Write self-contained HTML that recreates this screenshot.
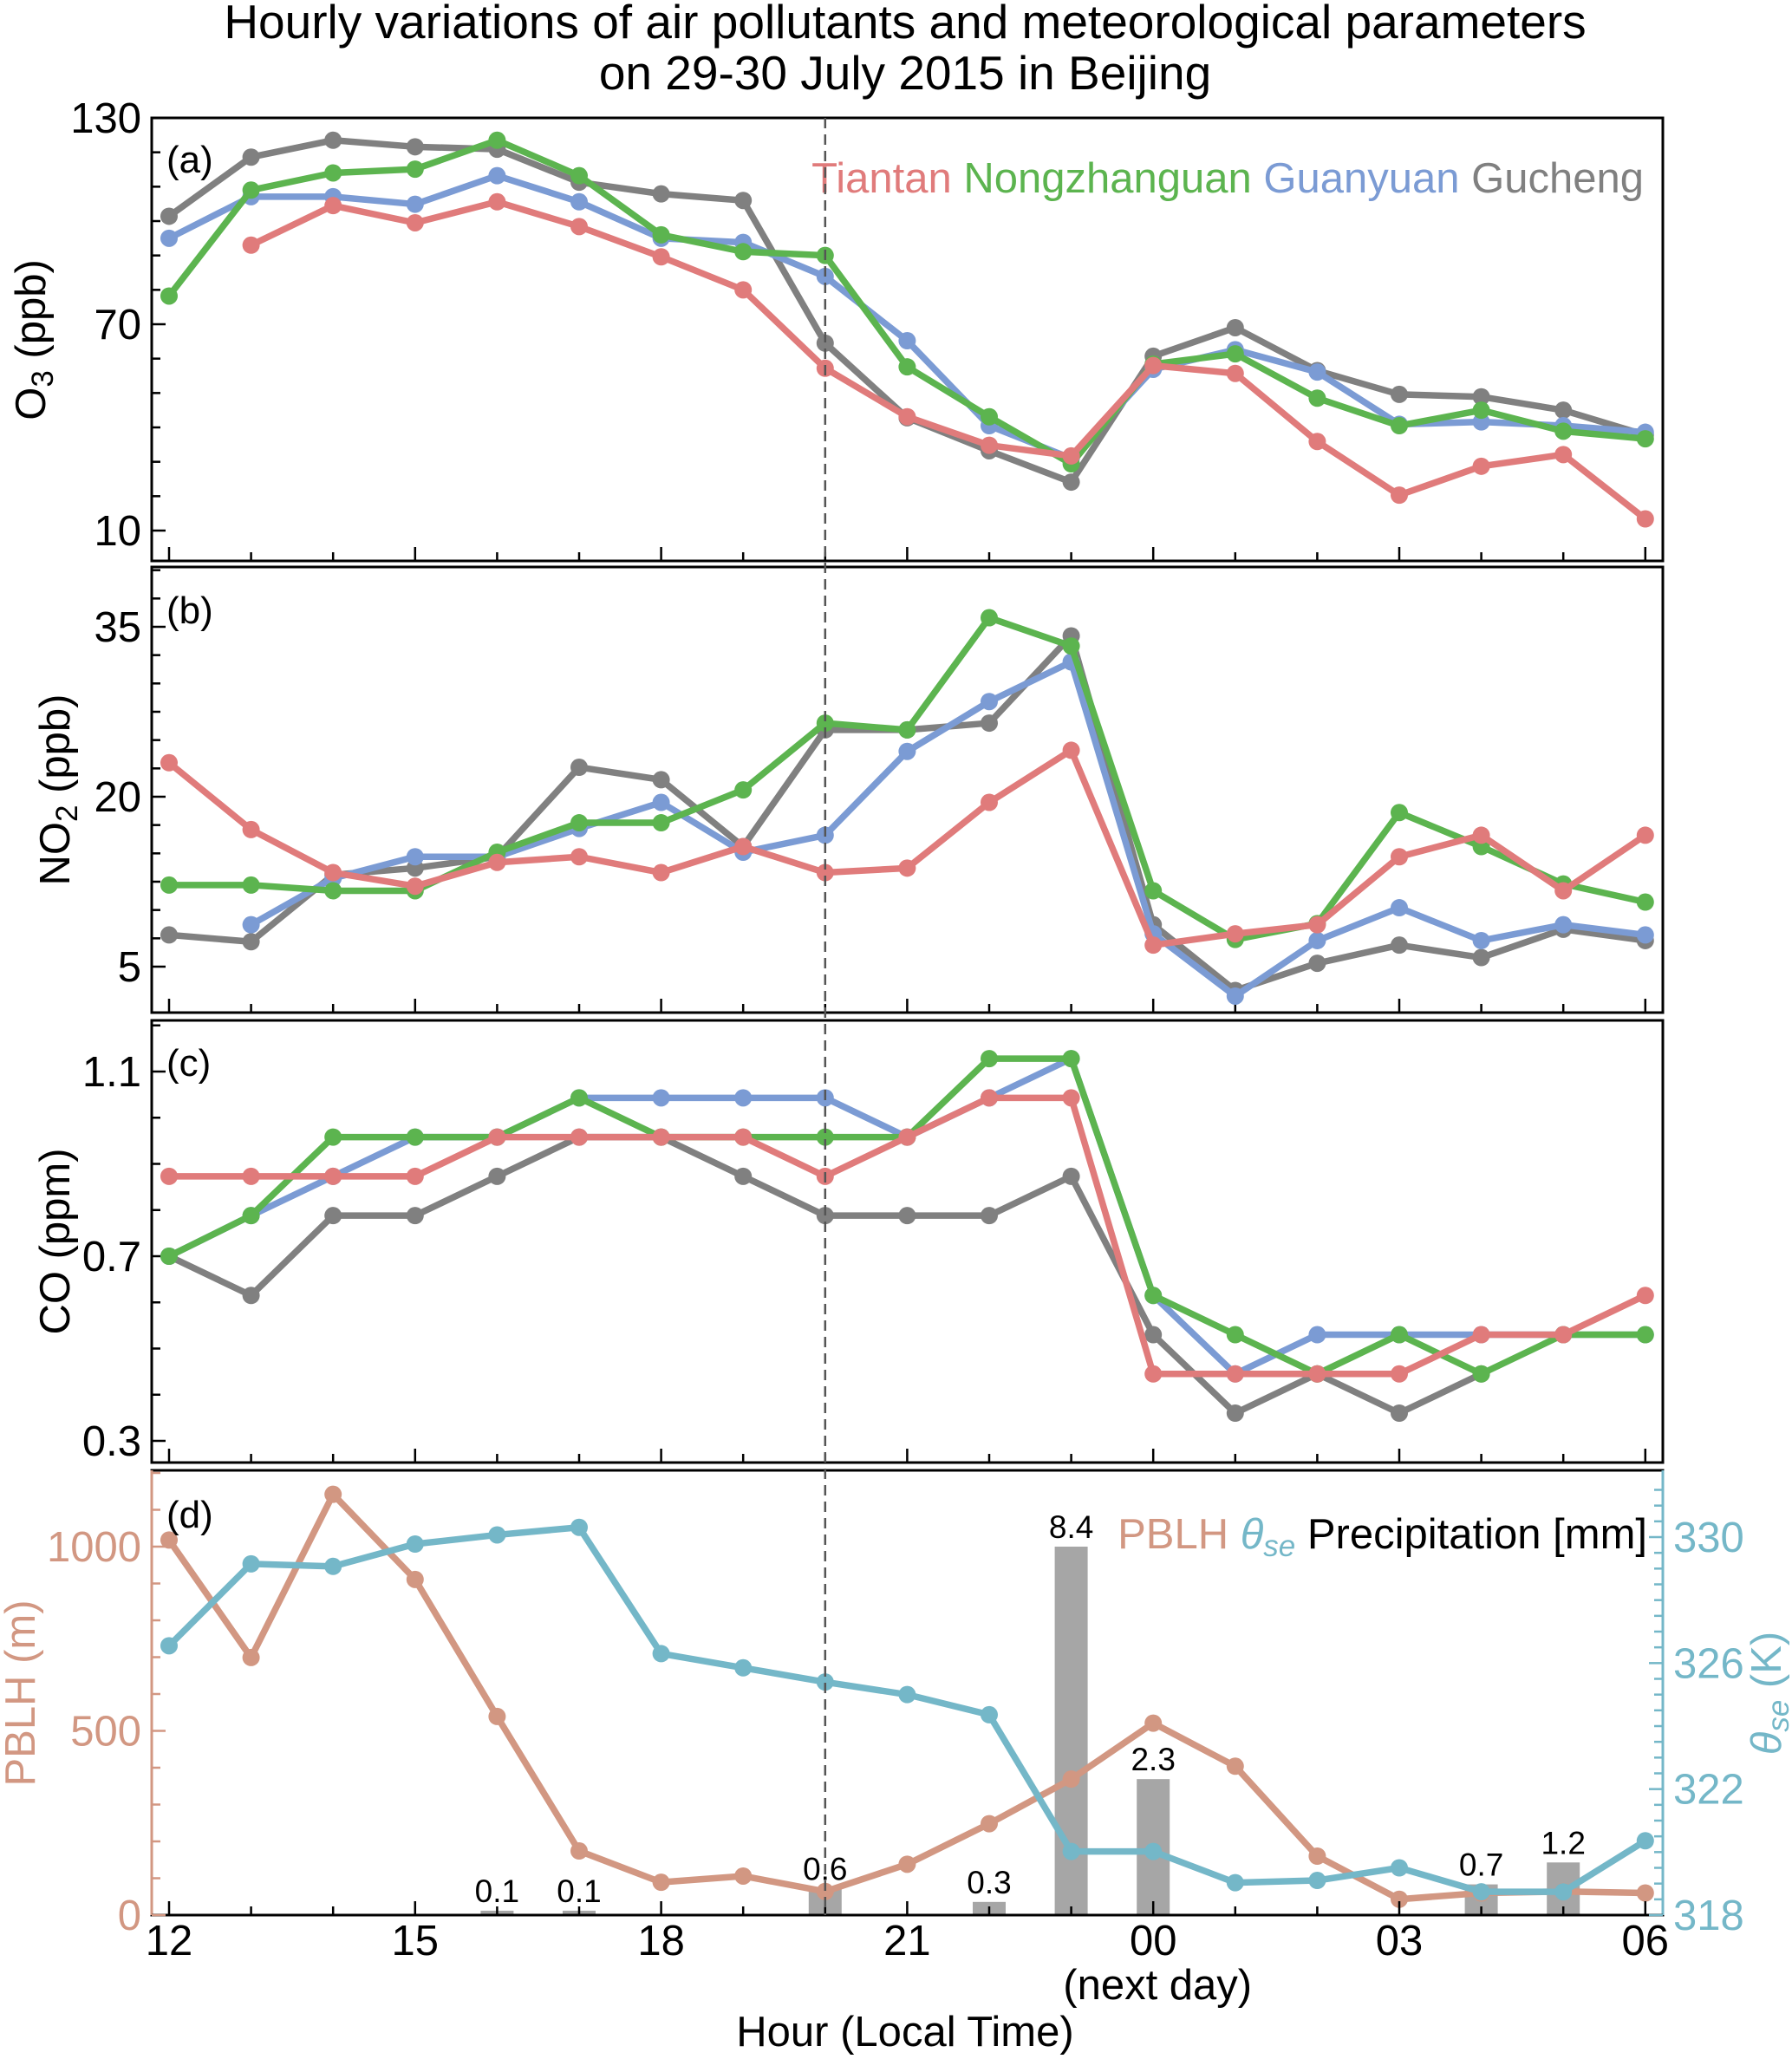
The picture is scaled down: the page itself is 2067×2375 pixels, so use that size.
<!DOCTYPE html>
<html><head><meta charset="utf-8"><style>
html,body{margin:0;padding:0;background:#fff}
svg{display:block;font-family:"Liberation Sans",Arial,sans-serif}
</style></head><body>
<svg id="chart" width="2067" height="2375" viewBox="0 0 2067 2375" xmlns="http://www.w3.org/2000/svg">
<text x="1044" y="44" font-size="55" text-anchor="middle">Hourly variations of air pollutants and meteorological parameters</text>
<text x="1044" y="103" font-size="55" text-anchor="middle">on 29-30 July 2015 in Beijing</text>
<g id="plots"></g>
</svg>
<script>
const hourLabels=["12","15","18","21","00","03","06"];
const stations=["Tiantan","Nongzhanguan","Guanyuan","Gucheng"];
const o3Tiantan=[null,93,104.5,99.5,105.6,98.4,89.6,80,57.2,43.1,34.8,31.7,58,55.7,35.9,20.3,28.7,32.1,13.4];
const o3Nong=[78.2,109,114,115.1,123.5,113.2,96,91.1,90,57.6,43.1,29.4,58.4,61.4,48.5,40.5,45,38.9,36.7];
const o3Guan=[95,107.1,107.1,104.9,113.2,105.6,95,93.8,83.9,65.2,40.5,31,56.9,62.6,56.1,40.9,41.6,40.5,38.6];
const o3Guch=[101.4,118.6,123.5,121.6,120.9,111.3,107.9,106,64.5,42.8,33.2,24.1,60.7,69,56.5,49.6,48.9,45,37.8];
const no2Tiantan=[23,17.1,13.3,12.1,14.2,14.7,13.3,15.6,13.3,13.7,19.5,24.1,6.9,7.9,8.7,14.7,16.6,11.7,16.6];
const no2Nong=[12.2,12.2,11.7,11.7,15.1,17.7,17.7,20.6,26.5,25.9,35.8,33.3,11.7,7.4,8.8,18.6,15.6,12.3,10.7];
const no2Guan=[null,8.7,12.8,14.7,14.7,17.2,19.5,15.1,16.6,24,28.4,31.9,7.9,2.4,7.3,10.2,7.3,8.7,7.8];
const no2Guch=[7.8,7.2,13.1,13.7,14.7,22.6,21.5,15.6,25.9,25.9,26.5,34.2,8.7,2.9,5.3,6.9,5.8,8.3,7.3];
const coTiantan=[0.873,0.873,0.873,0.873,0.958,0.958,0.958,0.958,0.873,0.958,1.043,1.043,0.445,0.445,0.445,0.445,0.53,0.53,0.615];
const coNong=[0.7,0.788,0.958,0.958,0.958,1.043,0.958,0.958,0.958,0.958,1.128,1.128,0.615,0.53,0.445,0.53,0.445,0.53,0.53];
const coGuan=[0.7,0.788,0.873,0.958,0.958,1.043,1.043,1.043,1.043,0.958,1.043,1.128,0.615,0.445,0.53,0.53,0.53,0.53,0.53];
const coGuch=[0.7,0.615,0.788,0.788,0.873,0.958,0.958,0.873,0.788,0.788,0.788,0.873,0.53,0.36,0.445,0.36,0.445,null,null];
const pblh=[1018,699,1142,911,539,174,89,106,64,138,248,369,521,404,160,43,60,64,60];
const thetaSe=[326.55,329.15,329.07,329.78,330.07,330.31,326.3,325.85,325.4,325.0,324.36,320.02,320.02,319.03,319.1,319.5,318.74,318.74,320.36];
const precipHour=[4,5,8,10,11,12,16,17];
const precipValue=[0.1,0.1,0.6,0.3,8.4,3.1,0.7,1.2];
const precipLabel=["0.1","0.1","0.6","0.3","8.4","2.3","0.7","1.2"];

const NS="http://www.w3.org/2000/svg";
const g=document.getElementById('plots');
function el(tag,attrs,parent,txt){const e=document.createElementNS(NS,tag);for(const k in attrs)e.setAttribute(k,attrs[k]);if(txt!==undefined)e.textContent=txt;(parent||g).appendChild(e);return e;}
const L=175,R=1918;
const FS=49;
const xs=h=>195+94.6*h;
const C={red:"#e07b7b",green:"#5cb44f",blue:"#7b9bd4",gray:"#808080",pblh:"#d29782",theta:"#74b7c8"};

function lin(v0,p0,v1,p1){return v=>p0+(v-v0)*(p1-p0)/(v1-v0);}
function frame(name,top,bot){
  const r=el('rect',{x:L,y:top,width:R-L,height:bot-top,fill:'none',stroke:'#000','stroke-width':3});
  
  for(let h=0;h<=18;h++){const len=h%3==0?16:10;const t=el('line',{x1:xs(h),x2:xs(h),y1:bot,y2:bot-len,stroke:'#000','stroke-width':2.5});
    }
}
function yticks(name,ys,vmin,vmax,step,majors,fmt,side,color){
  const x=side=='l'?L:R, d=side=='l'?1:-1;
  for(let v=vmin;v<=vmax+1e-9;v+=step){const vv=Math.round(v*1000)/1000;const maj=majors.some(m=>Math.abs(m-vv)<1e-6);
    const t=el('line',{x1:x,x2:x+d*(maj?16:10),y1:ys(vv),y2:ys(vv),stroke:color||'#000','stroke-width':2.5});
    }
  majors.forEach(m=>{const t=el('text',{x:side=='l'?L-12:R+12,y:ys(m)+17,'font-size':FS,'text-anchor':side=='l'?'end':'start',fill:color||'#000'},g,fmt(m));
    });
}
function series(name,arr,ys,color){
  let d='',pen=false;
  arr.forEach((v,i)=>{if(v==null){pen=false;return;}d+=(pen?'L':'M')+xs(i)+' '+ys(v)+' ';pen=true;});
  const p=el('path',{d:d,fill:'none',stroke:color,'stroke-width':7.5,'stroke-linejoin':'round'});
  
  arr.forEach((v,i)=>{if(v==null)return;const c=el('circle',{cx:xs(i),cy:ys(v),r:10,fill:color});
    });
}
function ylabel(name,x,y,txt,color,sub){
  const t=el('text',{x:x,y:y,'font-size':FS,'text-anchor':'middle',fill:color||'#000',transform:`rotate(-90 ${x} ${y})`});
  
  if(sub){el('tspan',{},t,sub[0]);el('tspan',{'font-size':35,dy:9},t,sub[1]);el('tspan',{dy:-9},t,sub[2]);}else t.textContent=txt;
}
function plabel(name,y,txt){const t=el('text',{x:192,y:y,'font-size':44},g,txt);}

// Panel a
const yA=lin(10,612,130,136);
frame('panel-a',136,647);
yticks('o3-axis',yA,10,130,10,[10,70,130],v=>v,'l');
series('o3-gucheng',o3Guch,yA,C.gray);series('o3-guanyuan',o3Guan,yA,C.blue);series('o3-nongzhanguan',o3Nong,yA,C.green);series('o3-tiantan',o3Tiantan,yA,C.red);
ylabel('o3-axis-title',52,392,'',null,['O','3',' (ppb)']);
plabel('panel-a-label',199,'(a)');
const leg=el('text',{x:1896,y:222,'font-size':FS,'text-anchor':'end'});

[["Tiantan",C.red],["Nongzhanguan",C.green],["Guanyuan",C.blue],["Gucheng",C.gray]].forEach((s,i)=>{const ts=el('tspan',{fill:s[1]},leg,(i?' ':'')+s[0]);});

// Panel b
const yB=lin(5,1115,35,723);
frame('panel-b',654,1168);
yticks('no2-axis',yB,5,40,2.5,[5,20,35],v=>v,'l');
series('no2-gucheng',no2Guch,yB,C.gray);series('no2-guanyuan',no2Guan,yB,C.blue);series('no2-nongzhanguan',no2Nong,yB,C.green);series('no2-tiantan',no2Tiantan,yB,C.red);
ylabel('no2-axis-title',80,911,'',null,['NO','2',' (ppb)']);
plabel('panel-b-label',719,'(b)');

// Panel c
const yC=lin(0.7,1449,1.1,1236);
frame('panel-c',1177,1687);
yticks('co-axis',yC,0.3,1.2,0.1,[0.3,0.7,1.1],v=>v.toFixed(1),'l');
series('co-gucheng',coGuch,yC,C.gray);series('co-guanyuan',coGuan,yC,C.blue);series('co-nongzhanguan',coNong,yC,C.green);series('co-tiantan',coTiantan,yC,C.red);
ylabel('co-axis-title',80,1432,'CO (ppm)');
plabel('panel-c-label',1241,'(c)');

// Panel d
const yP=lin(0,2209,1000,1784);
const yT=lin(318,2209,330,1773);
const yR=v=>yP(v*1000/8.4);
const fr=el('rect',{x:L,y:1696,width:R-L,height:513,fill:'none',stroke:'#000','stroke-width':3});

precipHour.forEach((h,i)=>{const b=el('rect',{x:xs(h)-19,y:yR(precipValue[i]),width:38,height:2209-yR(precipValue[i]),fill:'#a6a6a6'});
  
  const t=el('text',{x:xs(h),y:yR(precipValue[i])-10,'font-size':37,'text-anchor':'middle'},g,precipLabel[i]);
  });
series('pblh',pblh,yP,C.pblh);series('theta-se',thetaSe,yT,C.theta);
for(let h=0;h<=18;h++){const len=h%3==0?16:10;const t=el('line',{x1:xs(h),x2:xs(h),y1:2209,y2:2209-len,stroke:'#000','stroke-width':2.5});
  }
const la=el('line',{x1:L,x2:L,y1:1696,y2:2209,stroke:C.pblh,'stroke-width':3});
const ra=el('line',{x1:R,x2:R,y1:1696,y2:2209,stroke:C.theta,'stroke-width':3});
const tl=el('line',{x1:L,x2:R,y1:2209,y2:2209,stroke:'#000','stroke-width':3});
yticks('pblh-axis',yP,0,1200,100,[0,500,1000],v=>v,'l',C.pblh);
yticks('theta-axis',yT,318,331.5,0.5,[318,322,326,330],v=>v,'r',C.theta);
ylabel('pblh-axis-title',40,1953,'PBLH (m)',C.pblh);
const tt=el('text',{x:2054,y:1953,'font-size':FS,'text-anchor':'middle',fill:C.theta,transform:'rotate(-90 2054 1953)'});

el('tspan',{'font-style':'italic'},tt,'θ');el('tspan',{'font-style':'italic','font-size':35,dy:9},tt,'se');el('tspan',{dy:-9},tt,' (K)');
plabel('panel-d-label',1762,'(d)');
const lg=el('text',{x:1900,y:1786,'font-size':FS,'text-anchor':'end'});

let e1=el('tspan',{fill:C.pblh},lg,'PBLH  ');
let e2=el('tspan',{fill:C.theta,'font-style':'italic'},lg,'θ');
el('tspan',{fill:C.theta,'font-style':'italic','font-size':35,dy:9},lg,'se');
let e3=el('tspan',{dy:-9,fill:'#000'},lg,'  Precipitation [mm]');

// x labels
hourLabels.forEach((s,i)=>{const t=el('text',{x:xs(i*3),y:2255,'font-size':FS,'text-anchor':'middle'},g,s);
  });
let nd=el('text',{x:xs(12)+5,y:2306,'font-size':FS,'text-anchor':'middle'},g,'(next day)');
let xt=el('text',{x:1044,y:2360,'font-size':FS,'text-anchor':'middle'},g,'Hour (Local Time)');

// dashed line
let dl=el('line',{x1:xs(8),x2:xs(8),y1:136,y2:2209,stroke:'#555','stroke-width':2.5,'stroke-dasharray':'12 7'});

</script>
</body></html>
